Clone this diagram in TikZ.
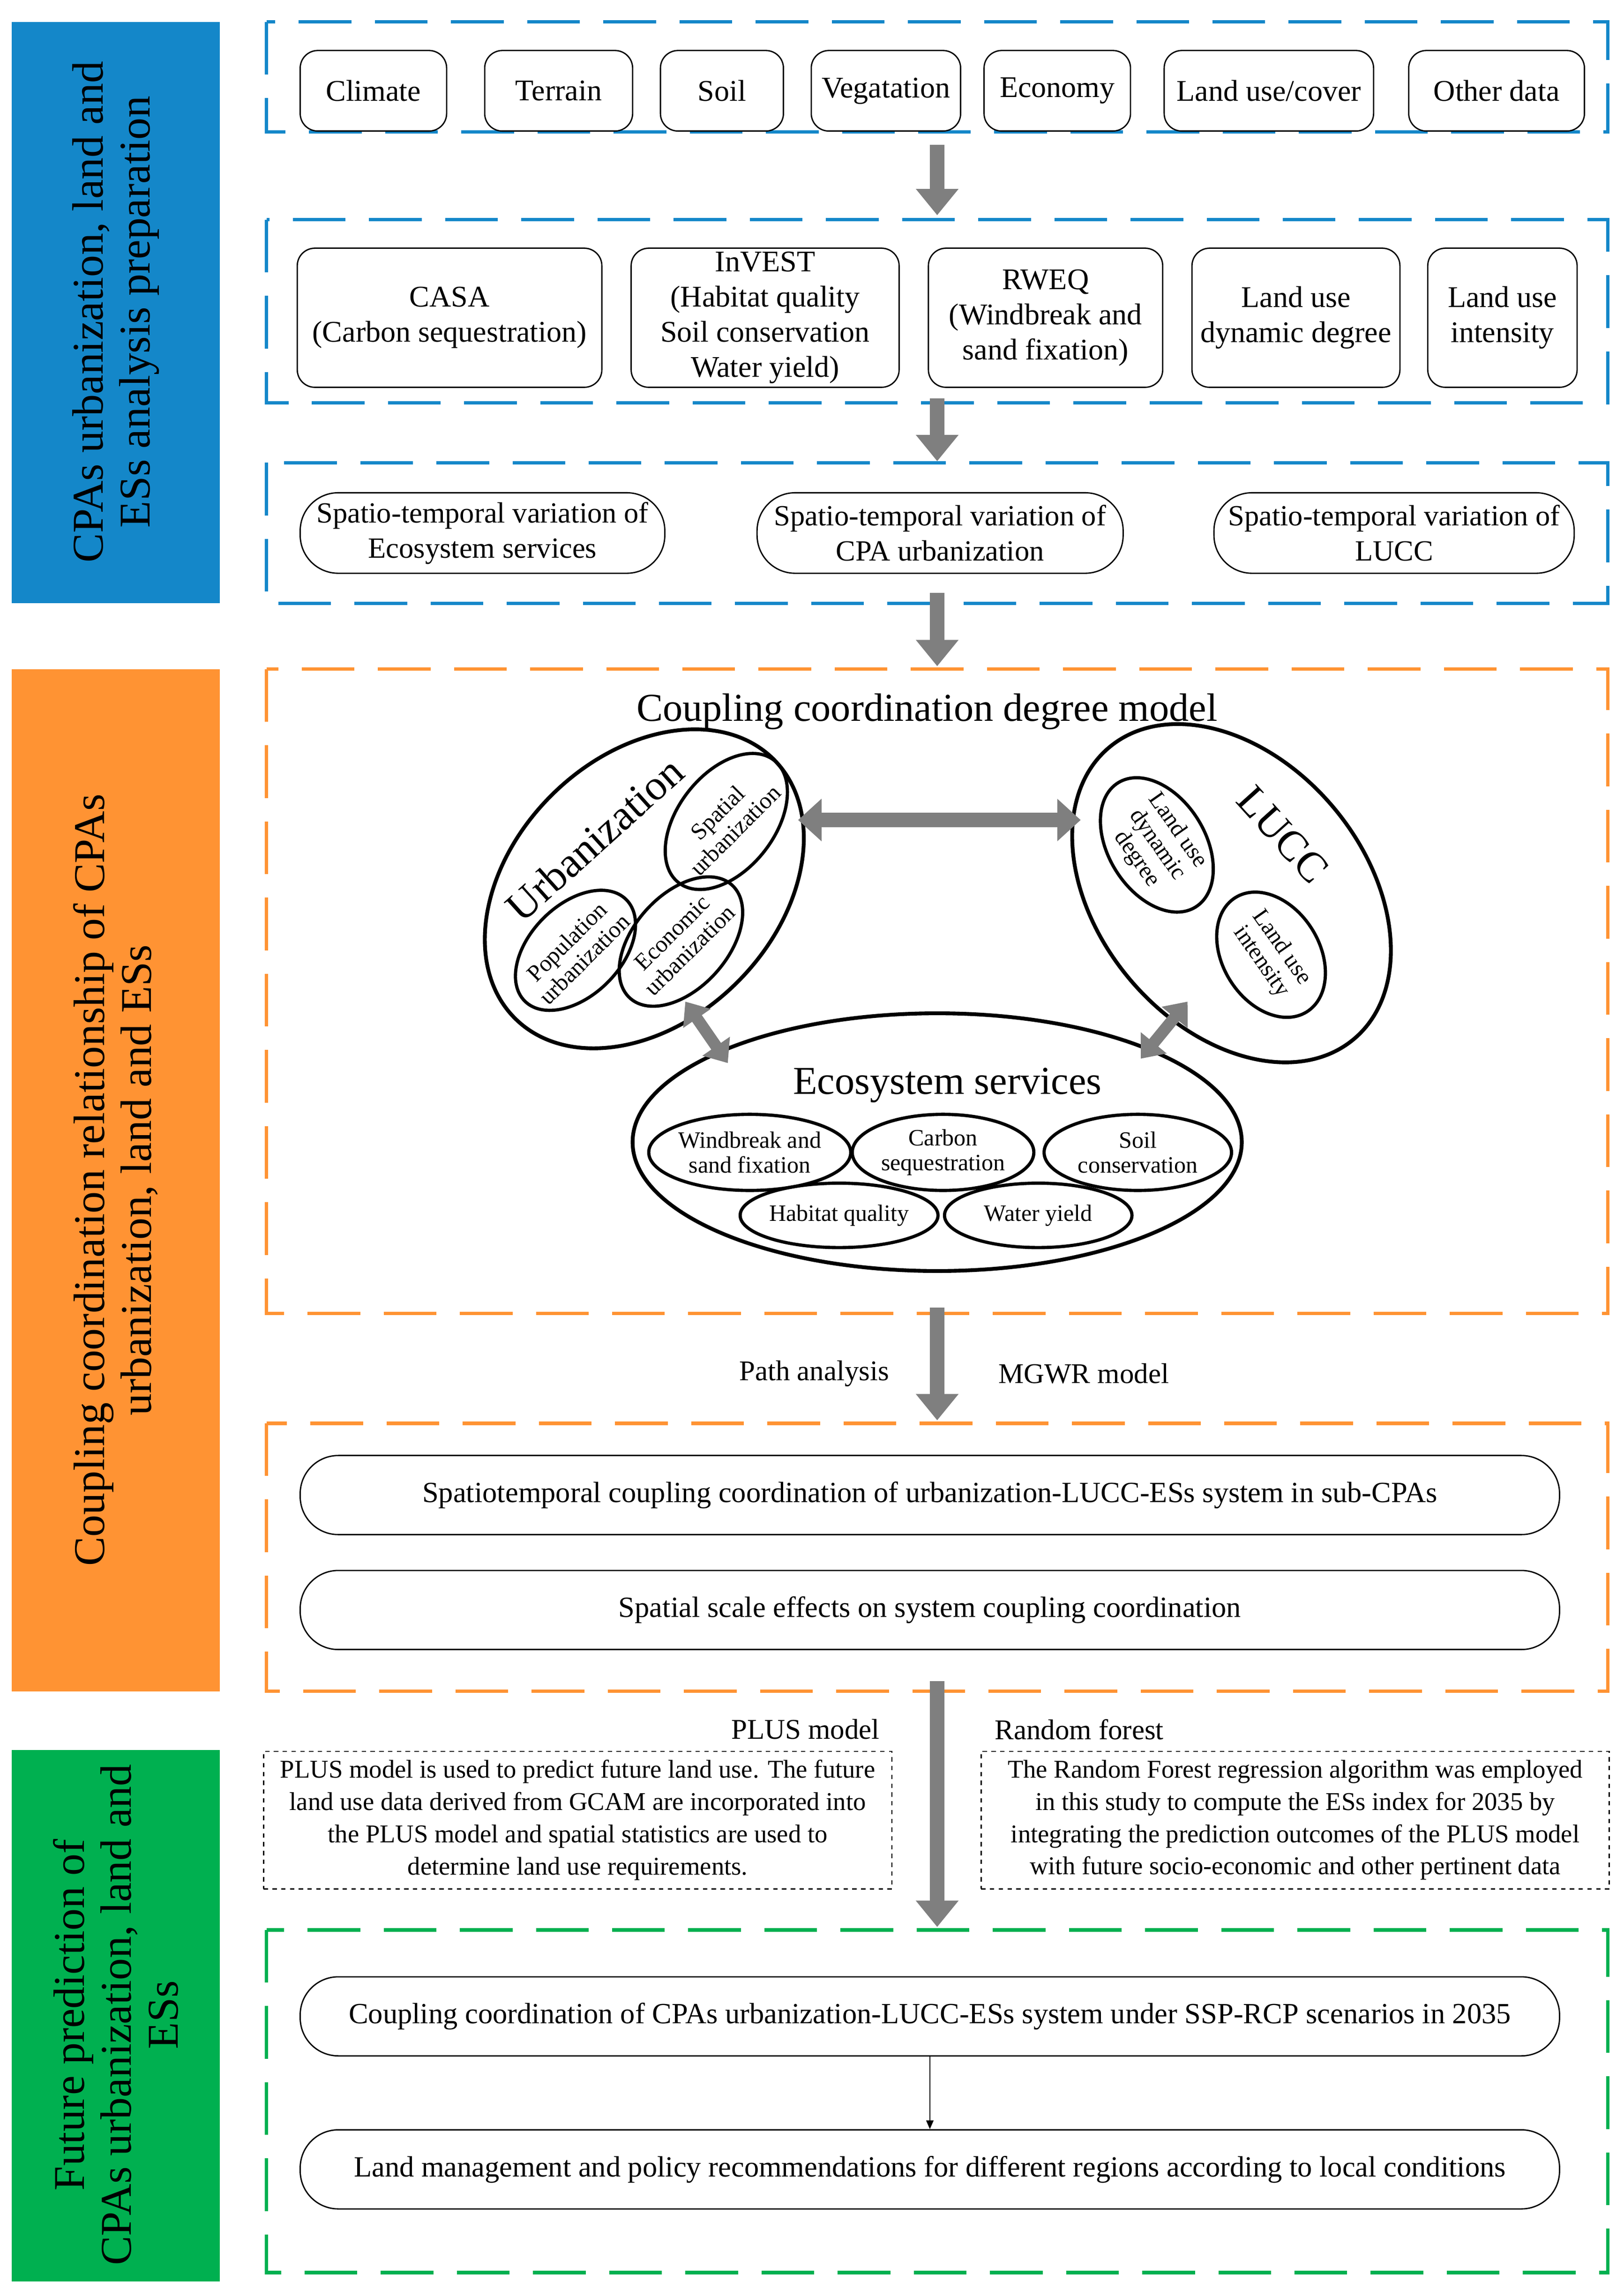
\documentclass[tikz,border=0pt]{standalone}
\usepackage{fontspec}
\setmainfont{Liberation Serif}
\usetikzlibrary{arrows.meta,shapes.geometric}
\definecolor{cblue}{HTML}{1487C9}
\definecolor{corange}{HTML}{FF9333}
\definecolor{cgreen}{HTML}{00B050}
\definecolor{agray}{HTML}{7F7F7F}
\tikzset{
 x=1pt,y=-1pt,
 dbox/.style={line width=2.3pt,dash pattern=on 36pt off 16pt},
 rb/.style={draw,line width=0.9pt,rounded corners=12pt,align=center,font=\fontsize{20.5}{24}\selectfont},
 rr/.style={draw,line width=0.9pt,rounded corners=26pt,align=center,font=\fontsize{20}{24}\selectfont},
 garr/.style={agray,line width=10pt,-{Triangle[length=18pt,width=28pt]}},
 gdarr/.style={agray,line width=10pt,{Triangle[length=16pt,width=28pt]}-{Triangle[length=16pt,width=28pt]}},
 el/.style={draw,line width=2.6pt,ellipse,inner sep=0pt},
 sl/.style={font=\fontsize{30}{32}\selectfont,align=center,rotate=90},
 tx/.style={font=\fontsize{19.5}{23}\selectfont,align=center},
 ptxt/.style={draw,dashed,line width=0.8pt,align=center,font=\fontsize{17.5}{22}\selectfont,inner sep=1pt},
 ms/.style={font=\fontsize{16}{17}\selectfont,align=center},
}
\begin{document}
\begin{tikzpicture}
\useasboundingbox (0,0) rectangle (1109,1568);
\fill[white] (0,0) rectangle (1109,1568);
% side bars
\fill[cblue] (8,15) rectangle (150,412);
\fill[corange] (8,457) rectangle (150,1155);
\fill[cgreen] (8,1195) rectangle (150,1558);
\node[sl] (s1) at (79,213) {CPAs urbanization, land and\\ESs analysis preparation};
\node[sl] (s2) at (79,806) {Coupling coordination relationship of CPAs\\urbanization, land and ESs};
\node[sl] (s3) at (79,1376) {Future prediction of\\CPAs urbanization, land and\\ESs};
% dashed frames
\draw[dbox,cblue] (182,15) rectangle (1098,90);
\draw[dbox,cblue] (182,150) rectangle (1098,275);
\draw[dbox,cblue] (182,316) rectangle (1098,412);
\draw[dbox,corange] (182,457) rectangle (1098,897);
\draw[dbox,corange] (182,972) rectangle (1098,1155);
\draw[dbox,cgreen] (182,1318) rectangle (1098,1552);
% row 1
\node[rb,minimum width=100pt,minimum height=55pt] (c1) at (255,62) {Climate};
\node[rb,minimum width=101pt,minimum height=55pt] (c2) at (381.5,62) {Terrain};
\node[rb,minimum width=84pt,minimum height=55pt] (c3) at (493,62) {Soil};
\node[rb,minimum width=102pt,minimum height=55pt,inner xsep=1pt] (c4) at (605,62) {Vegatation};
\node[rb,minimum width=100pt,minimum height=55pt] (c5) at (722,62) {Economy};
\node[rb,minimum width=143pt,minimum height=55pt] (c6) at (866.5,62) {Land use/cover};
\node[rb,minimum width=120pt,minimum height=55pt] (c7) at (1022,62) {Other data};
% row 2
\node[rb,minimum width=208pt,minimum height=95pt] (m1) at (307,217) {CASA\\(Carbon sequestration)};
\node[rb,minimum width=183pt,minimum height=95pt,inner sep=0pt] (m2) at (522.5,217) {InVEST\\(Habitat quality\\Soil conservation\\Water yield)};
\node[rb,minimum width=160pt,minimum height=95pt] (m3) at (714,217) {RWEQ\\(Windbreak and\\sand fixation)};
\node[rb,minimum width=142pt,minimum height=95pt] (m4) at (885,217) {Land use\\dynamic degree};
\node[rb,minimum width=102pt,minimum height=95pt] (m5) at (1026,217) {Land use\\intensity};
% row 3
\node[rr,minimum width=249pt,minimum height=55pt,inner xsep=2pt] (v1) at (329.5,364) {Spatio-temporal variation of\\Ecosystem services};
\node[rr,minimum width=250pt,minimum height=55pt,inner xsep=2pt] (v2) at (642,364) {Spatio-temporal variation of\\CPA urbanization};
\node[rr,minimum width=246pt,minimum height=55pt,inner xsep=2pt] (v3) at (952,364) {Spatio-temporal variation of\\LUCC};
% down arrows
\coordinate (a1s) at (640,99); \coordinate (a1e) at (640,147);
\coordinate (a2s) at (640,272); \coordinate (a2e) at (640,315);
\coordinate (a3s) at (640,405); \coordinate (a3e) at (640,455);
\coordinate (a4s) at (640,893); \coordinate (a4e) at (640,970);
\coordinate (a5s) at (640,1148); \coordinate (a5e) at (640,1316);
\draw[garr] (a1s) -- (a1e);
\draw[garr] (a2s) -- (a2e);
\draw[garr] (a3s) -- (a3e);
\draw[garr] (a4s) -- (a4e);
\draw[garr] (a5s) -- (a5e);
% coupling model
\node[font=\fontsize{27}{30}\selectfont] (ccd) at (633,486) {Coupling coordination degree model};
\node[el,minimum width=250pt,minimum height=180pt,rotate=45] (U) at (440,607) {};
\node[el,line width=2.2pt,minimum width=106pt,minimum height=66pt,rotate=52] (Us) at (496,561) {};
\node[el,line width=2.2pt,minimum width=98pt,minimum height=62pt,rotate=45] (Up) at (393,649) {};
\node[el,line width=2.2pt,minimum width=104pt,minimum height=64pt,rotate=48] (Ue) at (465,643) {};
\node[font=\fontsize{29}{30}\selectfont,rotate=42] (Ut) at (406,573) {Urbanization};
\node[ms,rotate=45] (Ust) at (496,561) {Spatial\\urbanization};
\node[ms,rotate=45] (Upt) at (393,649) {Population\\urbanization};
\node[ms,rotate=45] (Uet) at (465,643) {Economic\\urbanization};
\node[el,minimum width=260pt,minimum height=182pt,rotate=-50] (L) at (841,610) {};
\node[el,line width=2.2pt,minimum width=100pt,minimum height=66pt,rotate=-58] (Ld) at (790,577) {};
\node[el,line width=2.2pt,minimum width=92pt,minimum height=66pt,rotate=-58] (Li) at (868,652) {};
\node[font=\fontsize{29}{30}\selectfont,rotate=-48] (Lt) at (876,570) {LUCC};
\node[ms,rotate=-55] (Ldt) at (790,577) {Land use\\dynamic\\degree};
\node[ms,rotate=-55] (Lit) at (868,652) {Land use\\intensity};
\node[el,minimum width=416pt,minimum height=176pt] (E) at (640,780) {};
\node[font=\fontsize{27}{30}\selectfont] (Et) at (647,741) {Ecosystem services};
\node[el,line width=2.2pt,minimum width=136pt,minimum height=52pt,ms,inner sep=0pt] (E1) at (512,787) {Windbreak and\\sand fixation};
\node[el,line width=2.2pt,minimum width=124pt,minimum height=52pt,ms,inner sep=0pt] (E2) at (644,787) {Carbon\\sequestration};
\node[el,line width=2.2pt,minimum width=128pt,minimum height=52pt,ms,inner sep=0pt] (E3) at (777,787) {Soil\\conservation};
\node[el,line width=2.2pt,minimum width=124pt,minimum height=44pt,ms,inner sep=0pt] (E4) at (573,830) {Habitat quality};
\node[el,line width=2.2pt,minimum width=128pt,minimum height=44pt,ms,inner sep=0pt] (E5) at (709,830) {Water yield};
\coordinate (h1) at (545,560); \coordinate (h2) at (738,560);
\coordinate (d1) at (468,684); \coordinate (d2) at (497,726);
\coordinate (r1) at (811,684); \coordinate (r2) at (779,723);
\draw[gdarr] (h1) -- (h2);
\draw[agray,line width=8pt,{Triangle[length=14pt,width=22pt]}-{Triangle[length=14pt,width=22pt]}] (d1) -- (d2);
\draw[agray,line width=8pt,{Triangle[length=14pt,width=22pt]}-{Triangle[length=14pt,width=22pt]}] (r1) -- (r2);
% labels
\node[tx] (pa) at (556,938) {Path analysis};
\node[tx] (mg) at (740,938) {MGWR model};
\node[tx] (pl) at (550,1181) {PLUS model};
\node[tx] (rf) at (737,1181) {Random forest};
% long boxes
\node[rr,minimum width=860pt,minimum height=54pt] (b1) at (635,1021) {Spatiotemporal coupling coordination of urbanization-LUCC-ESs system in sub-CPAs};
\node[rr,minimum width=860pt,minimum height=54pt] (b2) at (635,1099.5) {Spatial scale effects on system coupling coordination};
\node[ptxt,minimum width=429pt,minimum height=94pt] (t1) at (394.5,1243) {PLUS model is used to predict future land use. The future\\land use data derived from GCAM are incorporated into\\the PLUS model and spatial statistics are used to\\determine land use requirements.};
\node[ptxt,minimum width=429pt,minimum height=94pt] (t2) at (884.5,1243) {The Random Forest regression algorithm was employed\\in this study to compute the ESs index for 2035 by\\integrating the prediction outcomes of the PLUS model\\with future socio-economic and other pertinent data};
\node[rr,minimum width=860pt,minimum height=54pt] (b3) at (635,1377) {Coupling coordination of CPAs urbanization-LUCC-ESs system under SSP-RCP scenarios in 2035};
\node[rr,minimum width=860pt,minimum height=54pt] (b4) at (635,1481.5) {Land management and policy recommendations for different regions according to local conditions};
\draw[-{Triangle[length=6pt,width=5pt]},line width=0.8pt] (b3) -- (b4);
\end{tikzpicture}
\end{document}
